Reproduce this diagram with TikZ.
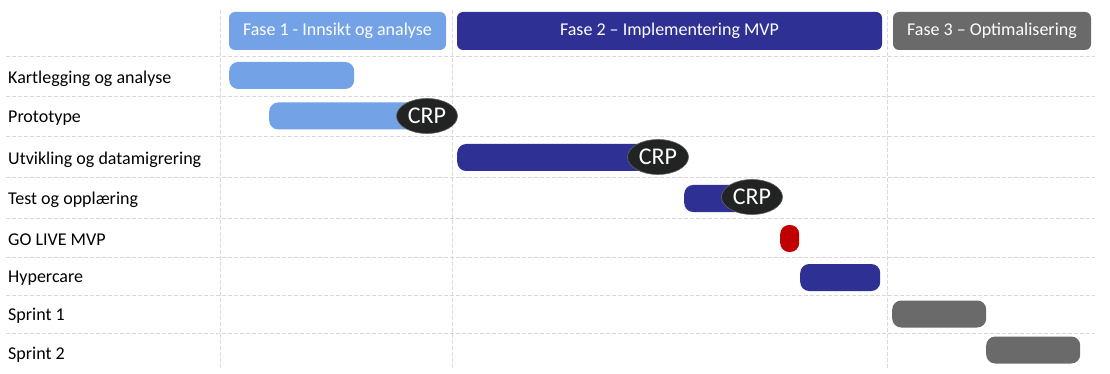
\documentclass[tikz,border=0pt]{standalone}
\usepackage{fontspec}
\setmainfont{Carlito}
\usetikzlibrary{shapes.geometric}
\definecolor{faseA}{HTML}{74A2E6}
\definecolor{faseB}{HTML}{2E3094}
\definecolor{faseC}{HTML}{6A6A6A}
\definecolor{golive}{HTML}{C00000}
\definecolor{crpfill}{HTML}{212422}
\definecolor{gridgray}{HTML}{D9D9D9}
\begin{document}
\begin{tikzpicture}[x=1pt, y=-1pt, font=\fontsize{18}{21}\selectfont,
        hdr/.style={rounded corners=6pt, minimum height=38, inner sep=0, text=white},
        bar/.style={rounded corners=9pt, minimum height=27, inner sep=0, anchor=west},
        barA/.style={bar, fill=faseA}, barB/.style={bar, fill=faseB}, barC/.style={bar, fill=faseC},
        crp/.style={ellipse, fill=crpfill, draw=black!60, line width=0.6pt, minimum width=61, minimum height=35,
          inner sep=0, text=white, font=\fontsize{24}{26}\selectfont},
        lbl/.style={anchor=west, inner sep=0, text=black},
        gridln/.style={gridgray, line width=1pt, dash pattern=on 4pt off 2pt}]
      \useasboundingbox[fill=white] (0,0) rectangle (1110,374);
      % grid
      \foreach \y in {56.5,96.5,137,178,218,257,295,333}
        \draw[gridln] (6,\y) -- (1095,\y);
      \foreach \x in {220,452,887}
        \draw[gridln] (\x,10) -- (\x,370);
      % phases
      \node[hdr, fill=faseA, minimum width=217] (fase1) at (337.5,31) {Fase 1 - Innsikt og analyse};
      \node[hdr, fill=faseB, minimum width=425] (fase2) at (669.5,31) {Fase 2 -- Implementering MVP};
      \node[hdr, fill=faseC, minimum width=198] (fase3) at (992,31) {Fase 3 -- Optimalisering};
      % activities
      \node[lbl] (lkart)  at (8,78.5)  {Kartlegging og analyse};
      \node[lbl] (lproto) at (8,118.5) {Prototype};
      \node[lbl] (lutv)   at (8,160)   {Utvikling og datamigrering};
      \node[lbl] (ltest)  at (8,200)   {Test og opplæring};
      \node[lbl] (lgo)    at (8,239.5) {GO LIVE MVP};
      \node[lbl] (lhyp)   at (8,278.5) {Hypercare};
      \node[lbl] (lspr1)  at (8,316)   {Sprint 1};
      \node[lbl] (lspr2)  at (8,354.5) {Sprint 2};
      % bars
      \node[barA, minimum width=125] (kart)  at (229,75.5)  {};
      \node[barA, minimum width=171] (proto) at (269,116)   {};
      \node[barB, minimum width=213] (utv)   at (457,157.5) {};
      \node[barB, minimum width=80]  (test)  at (684,198.5) {};
      \node[bar, fill=golive, minimum width=19] (golive) at (780,238.5) {};
      \node[barB, minimum width=80]  (hyp)   at (800,277.5) {};
      \node[barC, minimum width=94]  (spr1)  at (892,314)   {};
      \node[barC, minimum width=94]  (spr2)  at (986,350)   {};
      % milestones
      \node[crp] (crp1) at (427,116)   {CRP};
      \node[crp] (crp2) at (658,157)   {CRP};
      \node[crp] (crp3) at (752,197)   {CRP};
    \end{tikzpicture}
\end{document}
